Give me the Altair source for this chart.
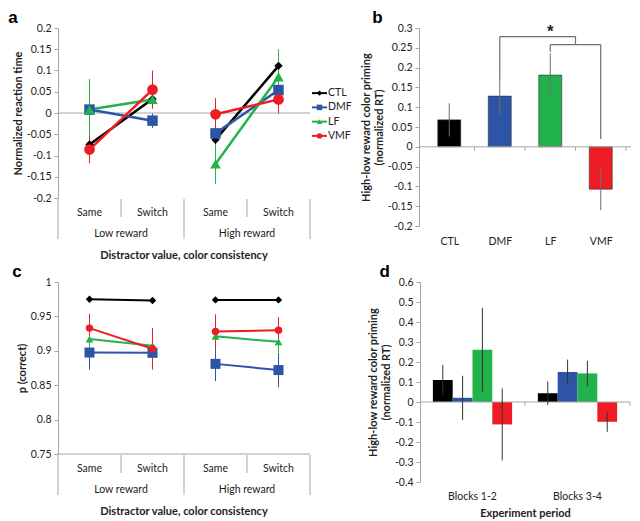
import altair as alt
import pandas as pd

# ---------------- data ----------------
groups = ["CTL", "DMF", "LF", "VMF"]
colors = ["#000000", "#2E54A6", "#22B24C", "#EE1C25"]
shapes = ["diamond", "square", "triangle-up", "circle"]

conds = ["Same", "Switch", "Same", "Switch"]
rewards = ["Low reward", "High reward"]

# panel a: normalized RT (Low Same, Low Switch, High Same, High Switch)
rt_ctl = [-0.074, 0.033, -0.063, 0.111]
rt_dmf = [0.008, -0.018, -0.048, 0.054]
rt_lf = [0.008, 0.032, -0.120, 0.085]
rt_vmf = [-0.086, 0.055, -0.003, 0.032]
rt_err_ctl = [0.02, 0.02, 0.037, 0.03]
rt_err_dmf = [0.02, 0.017, 0.02, 0.02]
rt_err_lf = [0.072, 0.02, 0.047, 0.065]
rt_err_vmf = [0.032, 0.045, 0.038, 0.033]

# panel b: high-low reward priming
prime = [0.068, 0.128, 0.181, -0.107]
prime_err = [0.042, 0.045, 0.055, 0.053]
# significance bracket
br_mid = 2.5
br_top = 0.278
br_low = 0.258
br_dmf_from = 0.172
br_lf_from = 0.24
br_vmf_to = 0.02
star_x = 2
star_y = 0.298

# panel c: p(correct)
pc_ctl = [0.975, 0.973, 0.974, 0.974]
pc_dmf = [0.8975, 0.897, 0.881, 0.872]
pc_lf = [0.917, 0.9075, 0.921, 0.913]
pc_vmf = [0.933, 0.903, 0.928, 0.930]
pc_err_ctl = [0.003, 0.003, 0.003, 0.003]
pc_err_dmf = [0.025, 0.024, 0.025, 0.025]
pc_err_lf = [0.015, 0.015, 0.015, 0.015]
pc_err_vmf = [0.021, 0.03, 0.025, 0.019]

# panel d: priming by experiment period
periods = ["Blocks 1-2", "Blocks 3-4"]
d_b12 = [0.110, 0.021, 0.261, -0.112]
d_b34 = [0.044, 0.150, 0.143, -0.099]
d_err_b12 = [0.075, 0.11, 0.21, 0.18]
d_err_b34 = [0.058, 0.062, 0.063, 0.05]

yt_a = [0.2, 0.15, 0.1, 0.05, 0, -0.05, -0.1, -0.15, -0.2]
yt_b = [0.3, 0.25, 0.2, 0.15, 0.1, 0.05, 0, -0.05, -0.1, -0.15, -0.2]
yt_c = [1, 0.95, 0.9, 0.85, 0.8, 0.75]
yt_d = [0.6, 0.5, 0.4, 0.3, 0.2, 0.1, 0, -0.1, -0.2, -0.3, -0.4]

FONT = "Lato"
AX = "#a6a6a6"
TXT = "#222222"

color_scale = alt.Scale(domain=groups, range=colors)
shape_scale = alt.Scale(domain=groups, range=shapes)


def long_df(series, errs):
    rows = []
    for g, vals, es in zip(groups, series, errs):
        for i, (v, e) in enumerate(zip(vals, es)):
            rows.append({"group": g, "idx": i, "val": v, "lo": v - e, "hi": v + e,
                         "seg": i // 2})
    return pd.DataFrame(rows)


def yaxis(vals, title):
    return alt.Axis(values=vals, labelExpr="'' + datum.value", grid=False,
                    domainColor=AX, tickColor=AX, tickSize=4, labelFont=FONT,
                    labelFontSize=10.5, labelColor=TXT, title=title,
                    titleFont=FONT, titleFontSize=11, titleFontWeight="bold",
                    titleColor=TXT, titlePadding=3, labelPadding=3)


def ptitle(letter, dx):
    return alt.TitleParams(letter, anchor="start", font="Arial", fontSize=17,
                           fontWeight="bold", offset=-4, dx=dx)


def line_panel(df, ydom, yticks, ytitle, w, h, sw, msizes, letter, zero_line):
    xs = alt.Scale(domain=[-0.5, 3.5])
    ys = alt.Scale(domain=ydom, nice=False, zero=False)
    ya = yaxis(yticks, ytitle)
    base = alt.Chart(df)
    err = base.mark_rule(strokeWidth=1).encode(
        x=alt.X("idx:Q", scale=xs, axis=None),
        y=alt.Y("lo:Q", scale=ys, axis=ya),
        y2="hi:Q",
        color=alt.Color("group:N", scale=color_scale, legend=None))
    lines = base.mark_line(strokeWidth=sw).encode(
        x=alt.X("idx:Q", scale=xs, axis=None),
        y=alt.Y("val:Q", scale=ys, axis=ya),
        detail="seg:N",
        color=alt.Color("group:N", scale=color_scale, legend=None))
    pts_layers = []
    for g, s in zip(groups, msizes):
        pts_layers.append(
            base.transform_filter(alt.datum.group == g).mark_point(
                filled=True, opacity=1, size=s).encode(
                x=alt.X("idx:Q", scale=xs, axis=None),
                y=alt.Y("val:Q", scale=ys, axis=ya),
                color=alt.Color("group:N", scale=color_scale, legend=None),
                shape=alt.Shape("group:N", scale=shape_scale, legend=None)))
    hline = alt.Chart(pd.DataFrame({"v": [zero_line]})).mark_rule(
        color=AX, strokeWidth=1).encode(y=alt.Y("v:Q", scale=ys, axis=ya))
    sep = pd.DataFrame({"pos": [-0.5, 0.5, 1.5, 2.5, 3.5],
                        "kind": ["long", "short", "long", "short", "long"]})
    sep_short = alt.Chart(sep).transform_filter("datum.kind == 'short'").mark_rule(
        color=AX).encode(x=alt.X("pos:Q", scale=xs, axis=None),
                         y=alt.value(h + 1), y2=alt.value(h + 19))
    sep_long = alt.Chart(sep).transform_filter("datum.kind == 'long'").mark_rule(
        color=AX).encode(x=alt.X("pos:Q", scale=xs, axis=None),
                         y=alt.value(h + 1), y2=alt.value(h + 41))
    cat_df = pd.DataFrame({"idx": [0, 1, 2, 3], "lab": conds})
    cats = alt.Chart(cat_df).mark_text(font=FONT, fontSize=10.5, color=TXT).encode(
        x=alt.X("idx:Q", scale=xs, axis=None), y=alt.value(h + 15), text="lab:N")
    grp_df = pd.DataFrame({"pos": [0.5, 2.5], "lab": rewards})
    grps = alt.Chart(grp_df).mark_text(font=FONT, fontSize=10.5, color=TXT).encode(
        x=alt.X("pos:Q", scale=xs, axis=None), y=alt.value(h + 36), text="lab:N")
    ttl_df = pd.DataFrame({"pos": [1.5], "lab": ["Distractor value, color consistency"]})
    ttl = alt.Chart(ttl_df).mark_text(font=FONT, fontSize=11, fontWeight="bold",
                                      color=TXT).encode(
        x=alt.X("pos:Q", scale=xs, axis=None), y=alt.value(h + 58), text="lab:N")
    return alt.layer(hline, sep_short, sep_long, err, lines, *pts_layers,
                     cats, grps, ttl).properties(
        width=w, height=h, title=ptitle(letter, -4))


# ---------- panel a ----------
df_a = long_df([rt_ctl, rt_dmf, rt_lf, rt_vmf], [rt_err_ctl, rt_err_dmf, rt_err_lf, rt_err_vmf])
pa = line_panel(df_a, [-0.2, 0.2], yt_a, "Normalized reaction time", 252, 170, 2.5,
                [70, 110, 110, 115], "a", 0)

# legend for panel a
leg_df = pd.DataFrame({"group": groups})
ls = alt.Scale(domain=groups, range=[58, 115])
lbase = alt.Chart(leg_df)
leg = alt.layer(
    lbase.mark_rule(strokeWidth=2).encode(
        x=alt.value(-4), x2=alt.value(11),
        y=alt.Y("group:N", scale=ls, axis=None),
        color=alt.Color("group:N", scale=color_scale, legend=None)),
    lbase.mark_point(filled=True, opacity=1, size=30).encode(
        x=alt.value(3.5), y=alt.Y("group:N", scale=ls, axis=None),
        color=alt.Color("group:N", scale=color_scale, legend=None),
        shape=alt.Shape("group:N", scale=shape_scale, legend=None)),
    lbase.mark_text(align="left", font=FONT, fontSize=10.5, color=TXT).encode(
        x=alt.value(12), y=alt.Y("group:N", scale=ls, axis=None), text="group:N"),
).properties(width=44, height=170, title=ptitle(" ", 0))

# ---------- panel b ----------
df_b = pd.DataFrame({"group": groups, "idx": [0, 1, 2, 3], "val": prime,
                     "lo": [v - e for v, e in zip(prime, prime_err)],
                     "hi": [v + e for v, e in zip(prime, prime_err)]})
bx = alt.Scale(domain=[-0.5, 3.5])
by = alt.Scale(domain=[-0.2, 0.3], nice=False)
bxa = alt.Axis(values=[0, 1, 2, 3], labelExpr="['CTL','DMF','LF','VMF'][datum.value]",
               domain=False, ticks=False, grid=False, labelFont=FONT,
               labelFontSize=10.5, labelColor=TXT, labelPadding=10, title=None)
bya = yaxis(yt_b, ["High-low reward  color priming", "(normalized RT)"])
bb = alt.Chart(df_b)
b_bars = bb.mark_bar(size=23, stroke="#333333", strokeWidth=0.6).encode(
    x=alt.X("idx:Q", scale=bx, axis=bxa),
    y=alt.Y("val:Q", scale=by, axis=bya),
    color=alt.Color("group:N", scale=color_scale, legend=None))
b_err = bb.mark_rule(color="#6e6e6e", strokeWidth=1).encode(
    x=alt.X("idx:Q", scale=bx, axis=bxa), y=alt.Y("lo:Q", scale=by, axis=bya), y2="hi:Q")
b_zero = alt.Chart(pd.DataFrame({"v": [0]})).mark_rule(color=AX).encode(
    y=alt.Y("v:Q", scale=by, axis=bya))
b_ticks = alt.Chart(pd.DataFrame({"pos": [0.5, 1.5, 2.5, 3.5], "v": [0] * 4})).mark_rule(
    color=AX, y2Offset=4).encode(x=alt.X("pos:Q", scale=bx, axis=bxa),
                                 y=alt.Y("v:Q", scale=by, axis=bya), y2="v:Q")
BR = "#6e6e6e"
br_h = pd.DataFrame({"x": [1, 2], "x2": [br_mid, 3], "y": [br_top, br_low]})
br_v = pd.DataFrame({"x": [1, br_mid, 2, 3],
                     "y": [br_dmf_from, br_low, br_lf_from, br_vmf_to],
                     "y2": [br_top, br_top, br_low, br_low]})
b_brh = alt.Chart(br_h).mark_rule(color=BR, strokeWidth=1.2).encode(
    x=alt.X("x:Q", scale=bx, axis=bxa), x2="x2:Q", y=alt.Y("y:Q", scale=by, axis=bya))
b_brv = alt.Chart(br_v).mark_rule(color=BR, strokeWidth=1.2).encode(
    x=alt.X("x:Q", scale=bx, axis=bxa), y=alt.Y("y:Q", scale=by, axis=bya), y2="y2:Q")
b_star = alt.Chart(pd.DataFrame({"x": [star_x], "y": [star_y], "t": ["*"]})).mark_text(
    font="Arial", fontSize=17, fontWeight="bold", color=TXT, baseline="middle", dy=3).encode(
    x=alt.X("x:Q", scale=bx, axis=bxa), y=alt.Y("y:Q", scale=by, axis=bya), text="t:N")
pb = alt.layer(b_bars, b_zero, b_ticks, b_err, b_brh, b_brv, b_star).properties(
    width=212, height=198, title=ptitle("b", 12))

# ---------- panel c ----------
df_c = long_df([pc_ctl, pc_dmf, pc_lf, pc_vmf], [pc_err_ctl, pc_err_dmf, pc_err_lf, pc_err_vmf])
pc = line_panel(df_c, [0.75, 1.0], yt_c, "p (correct)", 252, 172, 2,
                [55, 100, 60, 55], "c", 0.75)

# ---------- panel d ----------
rows = []
for p, vals, errs in [(periods[0], d_b12, d_err_b12), (periods[1], d_b34, d_err_b34)]:
    for g, v, e in zip(groups, vals, errs):
        rows.append({"period": p, "group": g, "val": v, "lo": v - e, "hi": v + e})
df_d = pd.DataFrame(rows)
dx_s = alt.Scale(domain=periods, paddingInner=0, paddingOuter=0)
do_s = alt.Scale(domain=groups, paddingInner=0, paddingOuter=0.65)
dy = alt.Scale(domain=[-0.4, 0.6], nice=False)
dxa = alt.Axis(domain=False, ticks=False, grid=False, labelAngle=0, labelFont=FONT,
               labelFontSize=10.5, labelColor=TXT, labelPadding=9,
               title="Experiment period", titleFont=FONT, titleFontSize=11,
               titleFontWeight="bold", titleColor=TXT, titlePadding=6)
dya = yaxis(yt_d, ["High-low reward color priming", "(normalized RT)"])
db = alt.Chart(df_d)
d_bars = db.mark_bar().encode(
    x=alt.X("period:N", scale=dx_s, axis=dxa),
    xOffset=alt.XOffset("group:N", scale=do_s),
    y=alt.Y("val:Q", scale=dy, axis=dya),
    color=alt.Color("group:N", scale=color_scale, legend=None))
d_err = db.mark_rule(color="#333333", strokeWidth=1).encode(
    x=alt.X("period:N", scale=dx_s, axis=dxa),
    xOffset=alt.XOffset("group:N", scale=do_s),
    y=alt.Y("lo:Q", scale=dy, axis=dya), y2="hi:Q")
d_zero = alt.Chart(pd.DataFrame({"v": [0]})).mark_rule(color=AX).encode(
    y=alt.Y("v:Q", scale=dy, axis=dya))
d_tick_df = pd.DataFrame({"period": [periods[1]], "v": [0]})
d_t1 = alt.Chart(d_tick_df).mark_rule(color=AX, y2Offset=4).encode(
    x=alt.X("period:N", scale=dx_s, axis=dxa, bandPosition=0),
    y=alt.Y("v:Q", scale=dy, axis=dya), y2="v:Q")
d_t2 = alt.Chart(d_tick_df).mark_rule(color=AX, y2Offset=4).encode(
    x=alt.X("period:N", scale=dx_s, axis=dxa, bandPosition=1),
    y=alt.Y("v:Q", scale=dy, axis=dya), y2="v:Q")
pd_ = alt.layer(d_bars, d_zero, d_t1, d_t2, d_err).properties(
    width=210, height=200, title=ptitle("d", 12))

top = alt.hconcat(pa, leg, pb, spacing=0)
bottom = alt.hconcat(pc, pd_, spacing=56)
chart = alt.vconcat(top, bottom, spacing=2).properties(padding=0).configure_view(
    stroke=None)

chart.save("out.html", embed_options={"renderer": "svg", "actions": False})
